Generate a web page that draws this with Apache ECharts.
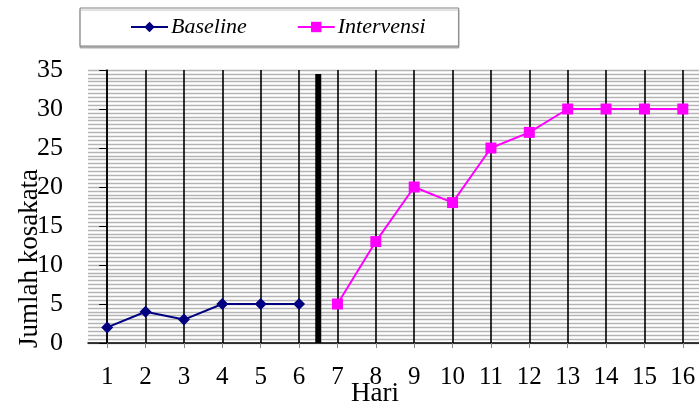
<!DOCTYPE html>
<html>
<head>
<meta charset="utf-8">
<script src="https://cdn.jsdelivr.net/npm/echarts@6/dist/echarts.min.js"></script>
<style>
  html, body { margin: 0; padding: 0; background: #fff; }
  #chart { width: 699px; height: 410px; }
</style>
</head>
<body>
<div id="chart"></div>
<script>
const days = ['1', '2', '3', '4', '5', '6', '7', '8', '9', '10', '11', '12', '13', '14', '15', '16'];
const baseline = [2, 4, 3, 5, 5, 5, null, null, null, null, null, null, null, null, null, null];
const intervensi = [null, null, null, null, null, null, 5, 13, 20, 18, 25, 27, 30, 30, 30, 30];
// phase change line sits between day 6 and day 7 (category index 5.5)
const phaseLine = 5.5;
const phaseTop = 34.5;
const yMin = 0, yMax = 35, yStep = 5;

const FONT = '"Liberation Serif", "Times New Roman", serif';

const chart = echarts.init(document.getElementById('chart'));

const option = {
  animation: false,
  backgroundColor: '#fff',
  textStyle: { fontFamily: FONT, color: '#000' },
  legend: {
    left: 80,
    top: 8,
    padding: [8, 33, 8, 50],
    itemGap: 50,
    itemWidth: 37,
    itemHeight: 13,
    borderColor: '#808080',
    borderWidth: 1,
    backgroundColor: '#fff',
    shadowColor: 'rgba(0,0,0,0.25)',
    shadowOffsetY: 2,
    shadowBlur: 1,
    textStyle: { fontFamily: FONT, fontStyle: 'italic', fontSize: 22, color: '#000', padding: [0, 0, 0, -2] },
    data: ['Baseline', 'Intervensi']
  },
  grid: { left: 88, right: -3, top: 70, bottom: 67, containLabel: false, outerBoundsMode: 'none' },
  xAxis: [
    {
      type: 'category',
      data: days,
      boundaryGap: true,
      name: 'Hari',
      nameLocation: 'middle',
      nameGap: 37,
      nameMoveOverlap: false,
      nameTextStyle: { fontFamily: FONT, fontSize: 27, color: '#000', padding: [0, 40, 0, 0] },
      axisLine: { show: true, lineStyle: { color: '#000', width: 1.5 } },
      axisTick: { show: true, alignWithLabel: true, length: 5, lineStyle: { color: '#888' } },
      axisLabel: { fontFamily: FONT, fontSize: 25, color: '#000', margin: 22, interval: 0 },
      splitLine: { show: true, alignWithLabel: true, lineStyle: { color: '#000', width: 1.6 } }
    },
    {
      // hidden index axis used to place the phase-change line between categories
      type: 'value',
      show: false,
      min: -0.5,
      max: days.length - 0.5,
      splitLine: { show: false }
    }
  ],
  yAxis: {
    type: 'value',
    min: yMin,
    max: yMax,
    interval: yStep,
    name: 'Jumlah kosakata',
    nameLocation: 'middle',
    nameGap: 45,
    nameMoveOverlap: false,
    nameRotate: 90,
    nameTextStyle: { fontFamily: FONT, fontSize: 27, color: '#000', padding: [0, 104, 0, 0] },
    axisLine: { show: true, lineStyle: { color: '#000', width: 1.5 } },
    axisTick: { show: true, inside: false, length: 8, lineStyle: { color: '#000' } },
    axisLabel: { fontFamily: FONT, fontSize: 26, color: '#000', margin: 25 },
    splitLine: { show: true, lineStyle: { color: '#b4b4b4', width: 1.3 } },
    minorTick: { show: false, splitNumber: 10 },
    minorSplitLine: { show: true, lineStyle: { color: '#b4b4b4', width: 1.3 } }
  },
  series: [
    {
      name: 'Baseline',
      type: 'line',
      data: baseline,
      symbol: 'diamond',
      symbolSize: 12,
      itemStyle: { color: '#000080' },
      lineStyle: { color: '#000080', width: 2 },
      z: 5
    },
    {
      name: 'Intervensi',
      type: 'line',
      data: intervensi,
      symbol: 'rect',
      symbolSize: 11,
      itemStyle: { color: '#ff00ff' },
      lineStyle: { color: '#ff00ff', width: 2 },
      z: 5
    },
    {
      name: 'Fase',
      type: 'line',
      xAxisIndex: 1,
      data: [[phaseLine, phaseTop], [phaseLine, yMin]],
      symbol: 'none',
      silent: true,
      lineStyle: { color: '#000', width: 6 },
      z: 4
    }
  ]
};

chart.setOption(option);
window.addEventListener('resize', () => chart.resize());
</script>
</body>
</html>
